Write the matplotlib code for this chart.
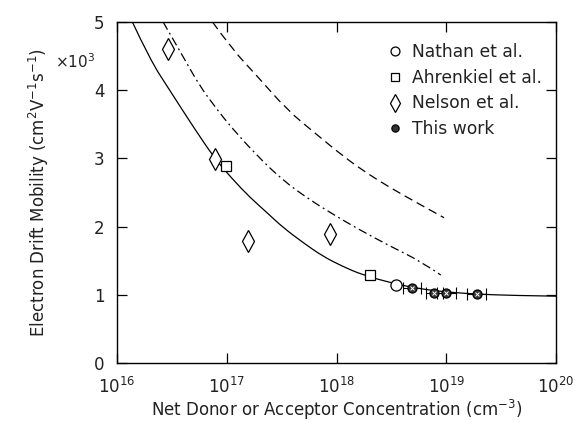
import matplotlib
matplotlib.use("Agg")
import matplotlib.pyplot as plt
from matplotlib.path import Path
from matplotlib.patches import PathPatch
import numpy as np

# ---- data ----
nathan_N = [3.5e18]
nathan_mu = [1.14]

ahrenkiel_N = [9.8e16, 2.0e18]
ahrenkiel_mu = [2.89, 1.29]

nelson_N = [2.9e16, 7.8e16, 1.55e17, 8.8e17]
nelson_mu = [4.60, 2.99, 1.79, 1.89]

this_N = [4.9e18, 7.8e18, 1.0e19, 1.9e19]
this_mu = [1.10, 1.03, 1.03, 1.01]
this_xerr_lo = [0.9e18, 1.2e18, 1.8e18, 3.5e18]
this_xerr_hi = [1.0e18, 1.5e18, 2.2e18, 4.0e18]

# solid curve (fit), log10(N) and mobility (x10^3)
solid_logN = [16.14, 16.30, 16.48, 16.70, 16.89, 17.05, 17.21, 17.37, 17.51, 17.70,
              17.87, 18.05, 18.24, 18.51, 18.75, 19.00, 19.28, 19.60, 20.00]
solid_mu = [5.00, 4.45, 4.00, 3.45, 3.00, 2.70, 2.43, 2.20, 1.99, 1.76,
            1.57, 1.42, 1.29, 1.17, 1.09, 1.04, 1.01, 0.99, 0.98]

# dash-dot curve
dashdot_logN = [16.42, 16.60, 16.75, 16.91, 17.05, 17.27, 17.51, 17.75, 17.98,
                18.18, 18.48, 18.78, 18.95]
dashdot_mu = [5.00, 4.50, 4.07, 3.72, 3.44, 3.05, 2.68, 2.40, 2.17,
              1.98, 1.72, 1.48, 1.29]

# dashed curve
dashed_logN = [16.87, 17.05, 17.27, 17.55, 17.82, 18.07, 18.28, 18.48, 18.72, 18.98]
dashed_mu = [5.00, 4.60, 4.22, 3.71, 3.35, 3.02, 2.78, 2.58, 2.36, 2.13]

xticks = [1e16, 1e17, 1e18, 1e19, 1e20]
yticks = [0, 1, 2, 3, 4, 5]

plt.rcParams['font.family'] = ['DejaVu Sans']
txtc = '#222222'


def smooth_path(logx, y):
    """Quadratic-Bezier path through midpoints, with read points as controls."""
    lx = np.asarray(logx, float)
    yy = np.asarray(y, float)
    verts = [(10**lx[0], yy[0])]
    codes = [Path.MOVETO]
    for i in range(1, len(lx) - 1):
        mx = 0.5 * (lx[i] + lx[i + 1])
        my = 0.5 * (yy[i] + yy[i + 1])
        if i == len(lx) - 2:
            mx, my = lx[i + 1], yy[i + 1]
        verts += [(10**lx[i], yy[i]), (10**mx, my)]
        codes += [Path.CURVE3, Path.CURVE3]
    return Path(verts, codes)


fig = plt.figure(figsize=(5.82, 4.21), dpi=100)
ax = fig.add_axes([117/582, 58/421, (556-117)/582, (363-22)/421])

lw = 0.9
for lx, ly, ls in [(solid_logN, solid_mu, '-'),
                   (dashdot_logN, dashdot_mu, (0, (7, 3, 1.5, 3))),
                   (dashed_logN, dashed_mu, (0, (7, 4)))]:
    p = PathPatch(smooth_path(lx, ly), facecolor='none', edgecolor='black',
                  lw=lw, linestyle=ls, transform=ax.transData, clip_on=True)
    ax.add_patch(p)

ax.errorbar(this_N, this_mu, xerr=[this_xerr_lo, this_xerr_hi], fmt='none',
            ecolor='black', elinewidth=0.8, capsize=4, capthick=0.8, zorder=4)
ax.plot(nathan_N, nathan_mu, 'o', mfc='white', mec='black', ms=8, mew=0.9,
        label='Nathan et al.', zorder=5)
ax.plot(ahrenkiel_N, ahrenkiel_mu, 's', mfc='white', mec='black', ms=7.5, mew=0.9,
        label='Ahrenkiel et al.', zorder=5)
ax.plot(nelson_N, nelson_mu, 'd', mfc='white', mec='black', ms=11, mew=0.9,
        label='Nelson et al.', zorder=5)
ax.plot(this_N, this_mu, 'o', mfc='#333333', mec='black', ms=6.5, mew=0.9,
        label='This work', zorder=6)
ax.plot(this_N, this_mu, 'x', color='white', ms=3, mew=0.7, zorder=7)

ax.set_xscale('log')
ax.set_xlim(1e16, 1e20)
ax.set_ylim(0, 5)
ax.set_xticks(xticks)
ax.set_yticks(yticks)
ax.minorticks_off()
ax.tick_params(which='both', direction='in', length=7, width=0.9,
               top=True, right=True, labelsize=12, colors='black',
               labelcolor=txtc)
ax.tick_params(axis='y', pad=9)
ax.tick_params(axis='x', pad=10)
for s in ax.spines.values():
    s.set_linewidth(1.0)

ax.set_xlabel('Net Donor or Acceptor Concentration (cm$^{-3}$)', fontsize=12,
              color=txtc, labelpad=1)
ax.set_ylabel('Electron Drift Mobility (cm$^{2}$V$^{-1}$s$^{-1}$)', fontsize=12,
              color=txtc, labelpad=31)
fig.text(55/582, 1-62/421, r'$\times$10$^{3}$', fontsize=11, color=txtc,
         va='center', ha='left')

leg = ax.legend(loc='upper right', bbox_to_anchor=(547/582, 1-38/421),
                bbox_transform=fig.transFigure, frameon=False, fontsize=12.3,
                handletextpad=0.5, borderaxespad=0.0, borderpad=0.3,
                labelspacing=0.45, handlelength=1.0, markerscale=0.8)
for t in leg.get_texts():
    t.set_color(txtc)

fig.savefig('out.png', dpi=100)
